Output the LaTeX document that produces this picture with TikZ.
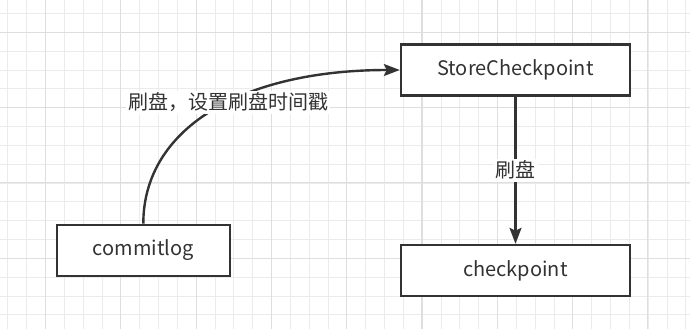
\documentclass[tikz,border=0pt]{standalone}
\usepackage{fontspec}
\usepackage{xcolor}
\usepackage{tikz}
\usetikzlibrary{arrows.meta,positioning}
\newfontfamily\cjk{Noto Sans CJK SC}
\definecolor{inkgray}{HTML}{333333}
\definecolor{gridminor}{HTML}{EBEBEB}
\definecolor{gridmajor}{HTML}{DEDEDE}
\tikzset{
  gridline/.style={gridminor,line width=0.9pt},
  gridbold/.style={gridmajor,line width=1.1pt},
  flowbox/.style={draw=inkgray,fill=white,line width=2.4pt,minimum height=51pt,inner sep=0pt,font=\cjk\fontsize{20}{24}\selectfont,text=inkgray},
  flowarrow/.style={-{Stealth[length=16pt,width=12pt,inset=3pt]},inkgray,line width=2.4pt},
  edgelabel/.style={fill=white,inner sep=2pt,font=\cjk\fontsize{20}{24}\selectfont,text=inkgray}
}
\begin{document}
\begin{tikzpicture}[x=1pt,y=-1pt]
\useasboundingbox (0,0) rectangle (690,329);
\fill[white] (0,0) rectangle (690,329);
\foreach \k in {0,...,36}{\draw[gridline] ({7.9+18.83*\k},0)--++(0,329);}
\foreach \k in {0,...,17}{\draw[gridline] (0,{13.5+18.83*\k})--++(690,0);}
\foreach \k in {0,...,8}{\draw[gridbold] ({45.5+75.3*\k},0)--++(0,329);}
\foreach \k in {0,...,3}{\draw[gridbold] (0,{32.3+75.3*\k})--++(690,0);}
\node[flowbox,minimum width=229pt] (store) at (515.5,70) {StoreCheckpoint};
\node[flowbox,minimum width=229pt] (ckpt) at (515.5,270.5) {checkpoint};
\node[flowbox,minimum width=173pt] (clog) at (143.3,250.3) {commitlog};
\draw[flowarrow] (clog.north) .. controls +(0,-94) and +(-160,0) .. (store.west)
  node[edgelabel,pos=0.56] {刷盘，设置刷盘时间戳};
\draw[flowarrow] (store) -- (ckpt) node[edgelabel,midway] {刷盘};
\end{tikzpicture}
\end{document}
